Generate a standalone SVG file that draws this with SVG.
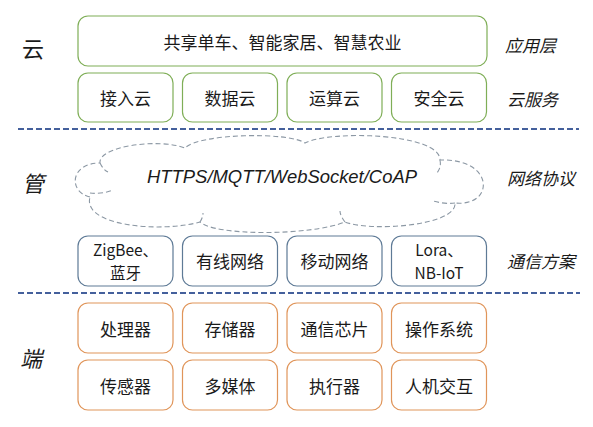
<svg xmlns="http://www.w3.org/2000/svg" width="593" height="427" viewBox="0 0 593 427">
<style>
.t{font-family:"Noto Sans CJK SC","Liberation Sans",sans-serif;font-size:17px;fill:#1a1a1a;text-anchor:middle;dominant-baseline:central}
.t2{font-family:"Noto Sans CJK SC","Liberation Sans",sans-serif;font-size:15.5px;fill:#1a1a1a;text-anchor:middle;dominant-baseline:central}
.lab{font-family:"Noto Sans CJK SC","Liberation Sans",sans-serif;font-size:17px;font-style:italic;fill:#1a1a1a;dominant-baseline:central}
.big{font-family:"Noto Sans CJK SC",sans-serif;font-size:22px;fill:#1a1a1a;text-anchor:middle;dominant-baseline:central}
.g{fill:#fff;stroke:#7FAE57;stroke-width:1.2}
.b{fill:#fff;stroke:#5E7A96;stroke-width:1.2}
.o{fill:#fff;stroke:#E0955A;stroke-width:1.2}
.sep{stroke:#44609C;stroke-width:2;stroke-dasharray:6,3;fill:none}
.cl{fill:#fff;stroke:#8C98A4;stroke-width:1.1;stroke-dasharray:5,3}
</style>
<rect width="593" height="427" fill="#fff"/>
<g id="separators">
<line class="sep" x1="18" y1="129" x2="579" y2="129"/>
<line class="sep" x1="18" y1="293" x2="580" y2="293"/>
</g>
<g id="layer-labels">
<text class="big" x="33" y="47">云</text>
<text class="big" x="33" y="182" font-style="italic">管</text>
<text class="big" x="31" y="357" font-style="italic">端</text>
<text class="lab" x="505" y="44">应用层</text>
<text class="lab" x="507" y="98">云服务</text>
<text class="lab" x="507" y="177">网络协议</text>
<text class="lab" x="507" y="260">通信方案</text>
</g>
<g id="app"><rect class="g" x="78" y="16" width="409" height="50" rx="10"/><text class="t" x="282.5" y="41">共享单车、智能家居、智慧农业</text></g>
<g id="cloud1"><rect class="g" x="78" y="73" width="95" height="49" rx="10"/><text class="t" x="125.5" y="97.5">接入云</text></g>
<g id="cloud2"><rect class="g" x="182.5" y="73" width="95" height="49" rx="10"/><text class="t" x="230" y="97.5">数据云</text></g>
<g id="cloud3"><rect class="g" x="287" y="73" width="95" height="49" rx="10"/><text class="t" x="334.5" y="97.5">运算云</text></g>
<g id="cloud4"><rect class="g" x="391.5" y="73" width="95" height="49" rx="10"/><text class="t" x="439" y="97.5">安全云</text></g>
<g id="protocol">
<path class="cl" d="M90,197 C68,192 70,163 100,163 C98,146 160,138 185,148 C200,133 290,132 305,143 C330,130 440,133 440,160 C495,158 495,207 455,203 C457,226 370,232 345,222 C310,236 215,236 200,222 C160,233 82,226 90,197 Z"/>
<path class="cl" fill="none" d="M90,193 C97,194 106,193 113,190"/>
<path class="cl" fill="none" d="M100,163 C102,167 104,170 108,172"/>
<path class="cl" fill="none" d="M440,160 C441,165 440,169 437,173"/>
<path class="cl" fill="none" d="M455,203 C448,204 440,203 433,201"/>
<path class="cl" fill="none" d="M345,222 C342,218 340,214 340,211"/>
<path class="cl" fill="none" d="M200,222 C202,219 203,216 203,213"/>
<text x="282" y="176" font-family="Liberation Sans,sans-serif" font-size="19" font-style="italic" fill="#1a1a1a" text-anchor="middle" dominant-baseline="central" textLength="270" lengthAdjust="spacingAndGlyphs">HTTPS/MQTT/WebSocket/CoAP</text>
</g>
<g id="zigbee"><rect class="b" x="78" y="236" width="95" height="50" rx="10"/><text class="t2"><tspan x="125.5" y="249">ZigBee、</tspan><tspan x="125.5" y="272">蓝牙</tspan></text></g>
<g id="wired"><rect class="b" x="182.5" y="236" width="95" height="50" rx="10"/><text class="t" x="230" y="260.5">有线网络</text></g>
<g id="mobile"><rect class="b" x="287" y="236" width="95" height="50" rx="10"/><text class="t" x="334.5" y="260.5">移动网络</text></g>
<g id="lora"><rect class="b" x="391.5" y="236" width="95" height="50" rx="10"/><text class="t2"><tspan x="439" y="249">Lora、</tspan><tspan x="439" y="272">NB-IoT</tspan></text></g>
<g id="cpu"><rect class="o" x="78" y="303" width="95" height="50" rx="10"/><text class="t" x="125.5" y="328">处理器</text></g>
<g id="storage"><rect class="o" x="182.5" y="303" width="95" height="50" rx="10"/><text class="t" x="230" y="328">存储器</text></g>
<g id="chip"><rect class="o" x="287" y="303" width="95" height="50" rx="10"/><text class="t" x="334.5" y="328">通信芯片</text></g>
<g id="os"><rect class="o" x="391.5" y="303" width="95" height="50" rx="10"/><text class="t" x="439" y="328">操作系统</text></g>
<g id="sensor"><rect class="o" x="78" y="360" width="95" height="50" rx="10"/><text class="t" x="125.5" y="385">传感器</text></g>
<g id="media"><rect class="o" x="182.5" y="360" width="95" height="50" rx="10"/><text class="t" x="230" y="385">多媒体</text></g>
<g id="actuator"><rect class="o" x="287" y="360" width="95" height="50" rx="10"/><text class="t" x="334.5" y="385">执行器</text></g>
<g id="hci"><rect class="o" x="391.5" y="360" width="95" height="50" rx="10"/><text class="t" x="439" y="385">人机交互</text></g>
</svg>
